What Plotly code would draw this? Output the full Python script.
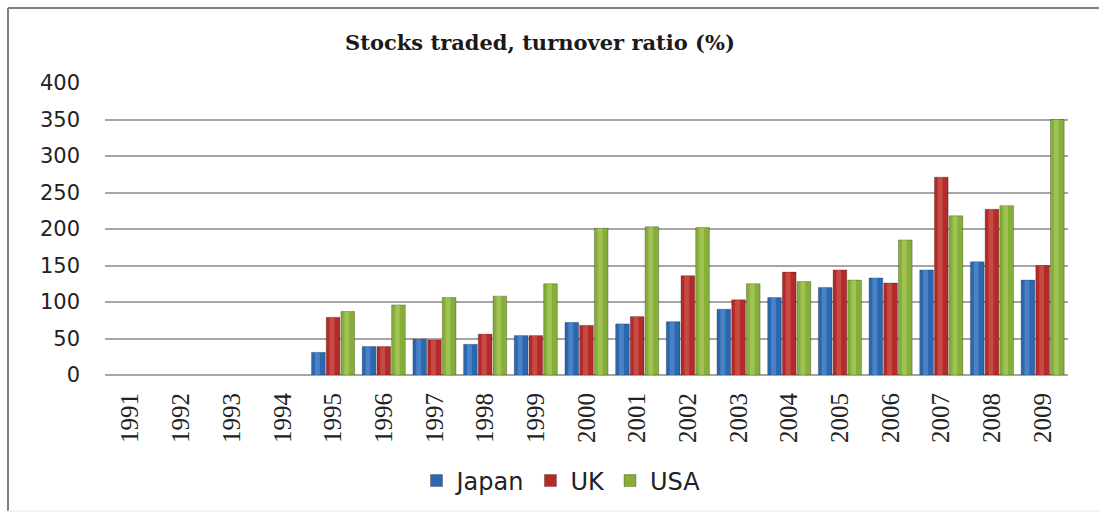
import plotly.graph_objects as go

years = [str(y) for y in range(1991, 2010)]
japan = [None, None, None, None, 31, 39, 49, 42, 54, 72, 70, 73, 90, 106, 120, 133, 144, 155, 130]
uk = [None, None, None, None, 79, 39, 48, 56, 54, 68, 80, 136, 103, 141, 144, 126, 271, 227, 150]
usa = [None, None, None, None, 87, 96, 106, 108, 125, 201, 203, 202, 125, 128, 130, 185, 218, 232, 350]
y_ticks = [0, 50, 100, 150, 200, 250, 300, 350, 400]

series = [
    ("Japan", japan, "#2C68B0", "#6FA3E0", -0.29),
    ("UK", uk, "#B52B28", "#E0706A", 0.0),
    ("USA", usa, "#86AE38", "#BEDC7A", 0.29),
]

bar_w = 0.27
fig = go.Figure()
for name, vals, base, light, off in series:
    # main cylinder body
    fig.add_trace(go.Bar(
        name=name, x=years, y=vals, width=bar_w, offset=off - bar_w / 2,
        marker=dict(color=base, line=dict(color="rgba(0,0,0,0.25)", width=1)),
    ))
    # soft highlight down the middle of each bar
    fig.add_trace(go.Bar(
        name=name, x=years, y=vals, width=bar_w * 0.35, offset=off - bar_w * 0.25,
        marker=dict(color=light, opacity=0.45, line=dict(width=0)),
        showlegend=False, hoverinfo="skip",
    ))

fig.update_layout(
    width=1099, height=514,
    margin=dict(l=105, r=31, t=83, b=139),
    barmode="overlay",
    paper_bgcolor="white", plot_bgcolor="white",
    title=dict(text="<b>Stocks traded, turnover ratio (%)</b>",
               font=dict(family="DejaVu Serif", size=21, color="#1a1a1a"),
               x=540 / 1099, xanchor="center", y=1 - 43 / 514, yanchor="middle"),
    legend=dict(orientation="h", x=561 / 1099, xanchor="center", xref="container",
                y=1 - 481 / 514, yanchor="middle", yref="container",
                font=dict(family="DejaVu Sans", size=24, color="#222"),
                itemwidth=30, traceorder="normal"),
    showlegend=True,
)
fig.update_xaxes(
    type="category", tickangle=-90, showgrid=False, showline=False,
    tickfont=dict(family="Liberation Serif", size=25, color="#222"),
    ticklabelstandoff=12, range=[-0.5, 18.5],
)
fig.update_yaxes(
    range=[0, 400], tickvals=y_ticks, showgrid=True, gridcolor="#A6A6A6", gridwidth=1.5,
    zeroline=True, zerolinecolor="#A6A6A6", zerolinewidth=1.5,
    tickfont=dict(family="DejaVu Sans", size=21, color="#222"),
    ticklabelstandoff=24,
)

# chart frame
fig.add_shape(type="line", xref="paper", yref="paper",
              x0=(8 - 105) / 963, x1=1.1, y0=(375 - 8) / 292, y1=(375 - 8) / 292,
              line=dict(color="#808080", width=2))
fig.add_shape(type="line", xref="paper", yref="paper",
              x0=(8 - 105) / 963, x1=(8 - 105) / 963, y0=(375 - 8) / 292, y1=(375 - 511) / 292,
              line=dict(color="#808080", width=2))
fig.add_shape(type="line", xref="paper", yref="paper",
              x0=(8 - 105) / 963, x1=1.1, y0=(375 - 511) / 292, y1=(375 - 511) / 292,
              line=dict(color="#E6E6E6", width=1))

fig.write_html("out.html")
